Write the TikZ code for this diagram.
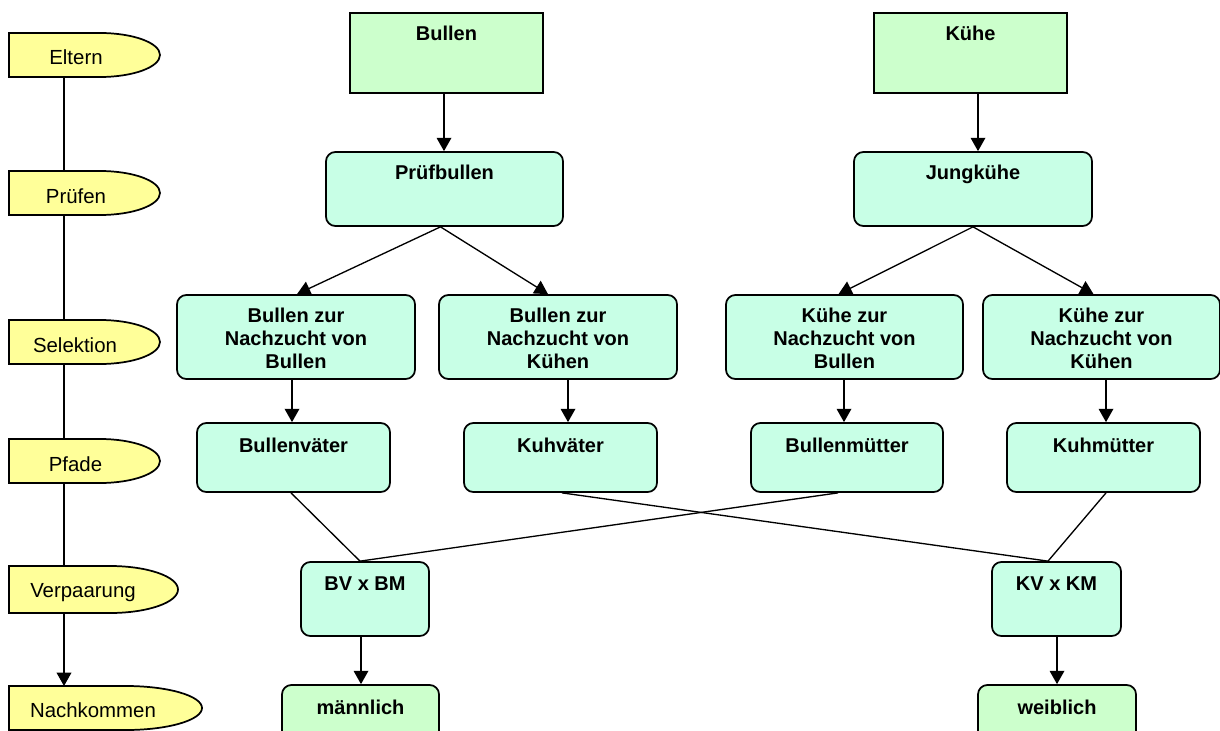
\documentclass[tikz,border=0pt]{standalone}
\usepackage{fontspec}
\setmainfont{Liberation Sans}
\usetikzlibrary{arrows.meta,calc}
\definecolor{boxgreen}{HTML}{CCFFCC}
\definecolor{boxmint}{HTML}{C8FFE6}
\definecolor{ylw}{HTML}{FFFF99}
\newcommand\yshape[5]{%
  \path[yshp] (9,#2) -- ({#4-#5},#2)
    .. controls ({#4-#5+0.552*#5},#2) and (#4,{(#2+#3)/2-0.552*(#3-#2)/2}) .. (#4,{(#2+#3)/2})
    .. controls (#4,{(#2+#3)/2+0.552*(#3-#2)/2}) and ({#4-#5+0.552*#5},#3) .. ({#4-#5},#3)
    -- (9,#3) -- cycle;
  \coordinate (#1-top) at (64,#2);
  \coordinate (#1-bot) at (64,#3);}
\begin{document}
\begin{tikzpicture}[x=0.75pt,y=-0.75pt,
  topbox/.style={draw, line width=1.3pt, fill=boxgreen, rectangle, inner sep=0pt},
  rbox/.style={draw, line width=1.3pt, fill=boxmint, rounded corners=7pt, inner sep=0pt},
  obox/.style={rbox, fill=boxgreen},
  btxt/.style={font=\fontsize{15}{17.25}\selectfont\bfseries, align=center, inner sep=0pt, anchor=north},
  ytxt/.style={font=\fontsize{15.3}{17.5}\selectfont, inner sep=0pt, anchor=base},
  yshp/.style={draw, line width=1.3pt, fill=ylw},
  conn/.style={line width=1pt},
  arr/.style={conn, -{Triangle[length=10pt,width=11pt]}}]
\useasboundingbox (0,0) rectangle (1220,731);
\clip (0,0) rectangle (1220,731);

% left column
\draw[conn] (64,77) -- (64,566);
\yshape{elt}{33}{77}{160}{60}
\yshape{pru}{171}{215}{160}{60}
\yshape{sel}{320}{364}{160}{60}
\yshape{pfa}{439}{483}{160}{60}
\yshape{ver}{566}{613}{178}{68}
\yshape{nac}{686}{730}{202}{76}
\draw[arr] (ver-bot) -- (nac-top);
\node[ytxt] (telt) at (76,65) {Eltern};
\node[ytxt] (tpru) at (76,203) {Prüfen};
\node[ytxt] (tsel) at (75,352) {Selektion};
\node[ytxt] (tpfa) at (75.5,471) {Pfade};
\node[ytxt] (tver) at (83,597) {Verpaarung};
\node[ytxt] (tnac) at (93,717) {Nachkommen};

% boxes
\node[topbox, minimum width=144.75pt, minimum height=60pt] (bullen) at (446.5,53) {};
\node[topbox, minimum width=144.75pt, minimum height=60pt] (kuehe) at (970.5,53) {};
\node[rbox, minimum width=177.75pt, minimum height=55.5pt] (pruef) at (444.5,189) {};
\node[rbox, minimum width=178.5pt, minimum height=55.5pt] (jung) at (973,189) {};
\node[rbox, minimum width=178.5pt, minimum height=63pt] (s1) at (296,337) {};
\node[rbox, minimum width=178.5pt, minimum height=63pt] (s2) at (558,337) {};
\node[rbox, minimum width=177.75pt, minimum height=63pt] (s3) at (844.5,337) {};
\node[rbox, minimum width=177.75pt, minimum height=63pt] (s4) at (1101.5,337) {};
\node[rbox, minimum width=144.75pt, minimum height=51.75pt] (p1) at (293.5,457.5) {};
\node[rbox, minimum width=144.75pt, minimum height=51.75pt] (p2) at (560.5,457.5) {};
\node[rbox, minimum width=144pt, minimum height=51.75pt] (p3) at (847,457.5) {};
\node[rbox, minimum width=144.75pt, minimum height=51.75pt] (p4) at (1103.5,457.5) {};
\node[rbox, minimum width=96pt, minimum height=55.5pt] (bvbm) at (365,599) {};
\node[rbox, minimum width=96.75pt, minimum height=55.5pt] (kvkm) at (1056.5,599) {};
\node[obox, minimum width=117.75pt, minimum height=55.5pt] (maennlich) at (360.5,722) {};
\node[obox, minimum width=118.5pt, minimum height=55.5pt] (weiblich) at (1057,722) {};

% texts
\node[btxt] (tbullen) at ($(bullen.north)+(0,14)$) {Bullen};
\node[btxt] (tkuehe) at ($(kuehe.north)+(0,14)$) {Kühe};
\node[btxt] (tpruef) at ($(pruef.north)+(0,14)$) {Prüfbullen};
\node[btxt] (tjung) at ($(jung.north)+(0,14)$) {Jungkühe};
\node[btxt] (ts1) at ($(s1.north)+(0,13.5)$) {Bullen zur\\Nachzucht von\\Bullen};
\node[btxt] (ts2) at ($(s2.north)+(0,13.5)$) {Bullen zur\\Nachzucht von\\Kühen};
\node[btxt] (ts3) at ($(s3.north)+(0,13.5)$) {Kühe zur\\Nachzucht von\\Bullen};
\node[btxt] (ts4) at ($(s4.north)+(0,13.5)$) {Kühe zur\\Nachzucht von\\Kühen};
\node[btxt] (tp1) at ($(p1.north)+(0,15.5)$) {Bullenväter};
\node[btxt] (tp2) at ($(p2.north)+(0,15.5)$) {Kuhväter};
\node[btxt] (tp3) at ($(p3.north)+(0,15.5)$) {Bullenmütter};
\node[btxt] (tp4) at ($(p4.north)+(0,15.5)$) {Kuhmütter};
\node[btxt] (tbvbm) at ($(bvbm.north)+(0,15.5)$) {BV x BM};
\node[btxt] (tkvkm) at ($(kvkm.north)+(0,15.5)$) {KV x KM};
\node[btxt] (tmaen) at ($(maennlich.north)+(0,15.5)$) {männlich};
\node[btxt] (tweib) at ($(weiblich.north)+(0,15.5)$) {weiblich};

% connectors
\draw[arr] ($(bullen.south)+(-2.5,0)$) -- ($(pruef.north)+(-0.5,0)$);
\draw[arr] ($(kuehe.south)+(7.5,0)$) -- ($(jung.north)+(5,0)$);
\draw[arr] ($(pruef.south)+(-4,0)$) -- ($(s1.north)+(1,0)$);
\draw[arr] ($(pruef.south)+(-4,0)$) -- ($(s2.north)+(-10,0)$);
\draw[arr] (jung.south) -- ($(s3.north)+(-6,0)$);
\draw[arr] (jung.south) -- ($(s4.north)+(-8,0)$);
\draw[arr] ($(s1.south)+(-4,0)$) -- ($(p1.north)+(-1.5,0)$);
\draw[arr] ($(s2.south)+(10,0)$) -- ($(p2.north)+(7.5,0)$);
\draw[arr] ($(s3.south)+(-0.5,0)$) -- ($(p3.north)+(-3,0)$);
\draw[arr] ($(s4.south)+(4.5,0)$) -- ($(p4.north)+(2.5,0)$);
\draw[conn] ($(p1.south)+(-2.5,0)$) -- ($(bvbm.north)+(-5,0)$);
\draw[conn] ($(p3.south)+(-9,0)$) -- ($(bvbm.north)+(-5,0)$);
\draw[conn] ($(p2.south)+(1.5,0)$) -- ($(kvkm.north)+(-8.5,0)$);
\draw[conn] ($(p4.south)+(2.5,0)$) -- ($(kvkm.north)+(-8.5,0)$);
\draw[arr] ($(bvbm.south)+(-4,0)$) -- ($(maennlich.north)+(0.5,0)$);
\draw[arr] ($(kvkm.south)+(0.5,0)$) -- (weiblich.north);
\end{tikzpicture}
\end{document}
